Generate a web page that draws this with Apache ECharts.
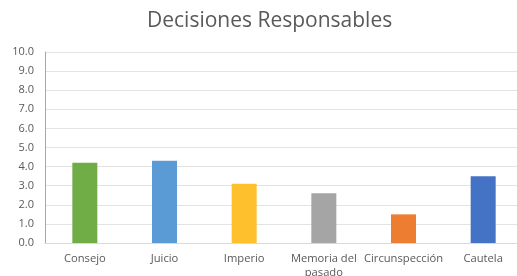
<!DOCTYPE html>
<html>
<head>
<meta charset="utf-8">
<script src="https://cdn.jsdelivr.net/npm/echarts@6/dist/echarts.min.js"></script>
<style>
    html, body { margin: 0; padding: 0; background: #fff; }
    #chart { width: 517px; height: 276px; }
</style>
</head>
<body>
<div id="chart"></div>
<script>
    var categories = ['Consejo', 'Juicio', 'Imperio', 'Memoria del\npasado', 'Circunspección', 'Cautela'];
    var values = [4.2, 4.3, 3.1, 2.6, 1.5, 3.5];
    var barColors = ['#70AD47', '#5B9BD5', '#FFC02E', '#A5A5A5', '#ED7D31', '#4472C4'];

    var chart = echarts.init(document.getElementById('chart'));
    var option = {
        animation: false,
        title: {
            text: 'Decisiones Responsables',
            left: 142,
            top: 6,
            textStyle: {
                fontFamily: 'Open Sans',
                fontSize: 21,
                fontWeight: 'normal',
                color: '#595959'
            }
        },
        grid: {
            left: 45,
            right: -6,
            top: 52,
            bottom: 33,
            outerBoundsMode: 'none'
        },
        xAxis: {
            type: 'category',
            data: categories,
            axisLine: { lineStyle: { color: '#D9D9D9' } },
            axisTick: { show: false },
            axisLabel: {
                interval: 0,
                margin: 9,
                fontFamily: 'Open Sans',
                fontSize: 11.2,
                lineHeight: 14,
                color: '#595959'
            }
        },
        yAxis: {
            type: 'value',
            min: 0,
            max: 10,
            interval: 1,
            axisLine: { show: true, lineStyle: { color: '#8FAADC' } },
            axisTick: { show: false },
            splitLine: { lineStyle: { color: '#E3E3E3' } },
            axisLabel: {
                margin: 11,
                fontFamily: 'Open Sans',
                fontSize: 11,
                color: '#595959',
                formatter: function (v) { return v.toFixed(1); }
            }
        },
        series: [{
            type: 'bar',
            barWidth: 25,
            data: values.map(function (v, i) {
                return { value: v, itemStyle: { color: barColors[i] } };
            })
        }]
    };
    chart.setOption(option);
</script>
</body>
</html>
